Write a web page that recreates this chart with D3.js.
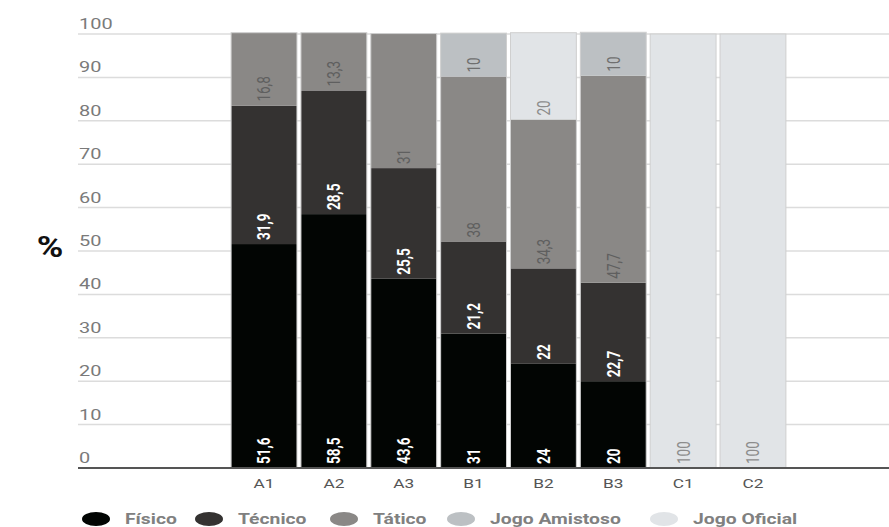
<!DOCTYPE html>
<html>
<head>
<meta charset="utf-8">
<script src="https://cdn.jsdelivr.net/npm/d3@7"></script>
<style>
  html, body { margin: 0; padding: 0; background: #fff; }
  svg { display: block; font-family: Roboto, "Noto Sans", sans-serif; }
</style>
</head>
<body>
<svg id="chart" width="889" height="527"></svg>
<script>
// ---- data ----
const categories = ["A1", "A2", "A3", "B1", "B2", "B3", "C1", "C2"];
const fisico   = [51.6, 58.5, 43.6, 31, 24, 20, 0, 0];
const tecnico  = [31.9, 28.5, 25.5, 21.2, 22, 22.7, 0, 0];
const tatico   = [16.8, 13.3, 31, 38, 34.3, 47.7, 0, 0];
const amistoso = [0, 0, 0, 10, 0, 10, 0, 0];
const oficial  = [0, 0, 0, 0, 20, 0, 100, 100];
const seriesNames = ["Físico", "Técnico", "Tático", "Jogo Amistoso", "Jogo Oficial"];
const yTicks = [0, 10, 20, 30, 40, 50, 60, 70, 80, 90, 100];

// ---- styles ----
const seriesData = [fisico, tecnico, tatico, amistoso, oficial];
const colors = ["#020503", "#343231", "#8a8886", "#bcc0c3", "#e1e4e7"];
const labelColors = ["#ffffff", "#ffffff", "#5f5f5f", "#6f6f6f", "#8c8c8c"];
const labelWeights = ["bold", "bold", "normal", "normal", "normal"];
const SX = 1.33; // horizontal stretch of the text in the reference

const svg = d3.select("#chart");
const x = d3.scaleBand().domain(categories).range([229, 788]).paddingInner(0.057).paddingOuter(0.03);
const y = d3.scaleLinear().domain([0, 100]).range([468, 34]);

// gridlines + tick labels
const grid = svg.append("g");
grid.selectAll("line").data(yTicks.filter(d => d > 0)).join("line")
  .attr("x1", 78).attr("x2", 889)
  .attr("y1", d => y(d)).attr("y2", d => y(d))
  .attr("stroke", "#dcdcdc").attr("stroke-width", 1.5);
grid.selectAll("text").data(yTicks).join("text")
  .attr("transform", d => `translate(79,${y(d) - 5}) scale(${SX},1)`)
  .attr("font-size", 15).attr("fill", "#7a7a7a")
  .text(d => d);

// stacked data
const rows = categories.map((c, i) => {
  const o = { cat: c };
  seriesNames.forEach((s, k) => o[s] = seriesData[k][i]);
  return o;
});
const stack = d3.stack().keys(seriesNames)(rows);

const barsG = svg.append("g");
stack.forEach((layer, k) => {
  barsG.append("g").selectAll("rect").data(layer.filter(d => d[1] - d[0] > 0)).join("rect")
    .attr("x", d => x(d.data.cat))
    .attr("width", x.bandwidth())
    .attr("y", d => y(d[1]))
    .attr("height", d => y(d[0]) - y(d[1]))
    .attr("fill", colors[k]);
});
// bar outlines
barsG.append("g").selectAll("rect").data(rows).join("rect")
  .attr("x", d => x(d.cat))
  .attr("width", x.bandwidth())
  .attr("y", d => y(d3.sum(seriesNames, s => d[s])))
  .attr("height", d => y(0) - y(d3.sum(seriesNames, s => d[s])))
  .attr("fill", "none").attr("stroke", "#cfcfcf").attr("stroke-width", 1);

// value labels
const fmt = v => String(v).replace(".", ",");
stack.forEach((layer, k) => {
  barsG.append("g").selectAll("text").data(layer.filter(d => d[1] - d[0] > 0)).join("text")
    .attr("transform", d => `translate(${x(d.data.cat) + x.bandwidth() / 2},${y(d[0]) - 4}) scale(${SX},1) rotate(-90)`)
    .attr("dy", "0.36em")
    .attr("font-size", 13.5)
    .attr("font-weight", labelWeights[k])
    .attr("fill", labelColors[k])
    .text(d => fmt(seriesData[k][categories.indexOf(d.data.cat)]));
});

// baseline axis
svg.append("line").attr("x1", 78).attr("x2", 889).attr("y1", y(0)).attr("y2", y(0))
  .attr("stroke", "#555").attr("stroke-width", 2);

// x labels
svg.append("g").selectAll("text").data(categories).join("text")
  .attr("transform", d => `translate(${x(d) + x.bandwidth() / 2},488) scale(${SX},1)`)
  .attr("text-anchor", "middle").attr("font-size", 13).attr("fill", "#555")
  .text(d => d);

// % label
svg.append("text").attr("transform", `translate(50,257) scale(1.2,1)`)
  .attr("text-anchor", "middle").attr("font-size", 30).attr("font-weight", "bold").attr("fill", "#111")
  .text("%");

// legend
const legendPos = [96, 209, 344, 461, 664];
const lg = svg.append("g");
seriesNames.forEach((s, k) => {
  lg.append("ellipse").attr("cx", legendPos[k]).attr("cy", 519).attr("rx", 14).attr("ry", 7).attr("fill", colors[k]);
  lg.append("text").attr("transform", `translate(${legendPos[k] + 29},524) scale(1.38,1)`)
    .attr("font-size", 14).attr("font-weight", "bold").attr("fill", "#808080")
    .text(s);
});
</script>
</body>
</html>
